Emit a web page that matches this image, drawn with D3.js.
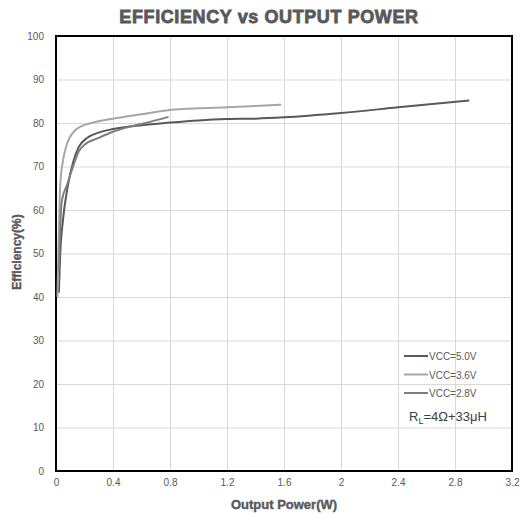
<!DOCTYPE html>
<html>
<head>
<meta charset="utf-8">
<script src="https://cdn.jsdelivr.net/npm/d3@7"></script>
<style>
  body { margin: 0; background: #fff; }
  text { font-family: "Liberation Sans", Arial, sans-serif; }
</style>
</head>
<body>
<svg id="chart"></svg>
<script>
// Data
const xTicks = [0, 0.4, 0.8, 1.2, 1.6, 2, 2.4, 2.8, 3.2];
const yTicks = [0, 10, 20, 30, 40, 50, 60, 70, 80, 90, 100];

const vcc50 = [[0.02, 41], [0.03, 50], [0.05, 58], [0.08, 65], [0.12, 71], [0.16, 74.5], [0.22, 76.6],
  [0.3, 77.8], [0.4, 78.6], [0.6, 79.5], [0.8, 80.1], [1.0, 80.6], [1.2, 80.9], [1.4, 81],
  [1.6, 81.3], [2.0, 82.3], [2.4, 83.6], [2.9, 85.2]];
const vcc36 = [[0.01, 40], [0.02, 55], [0.03, 66], [0.05, 71.5], [0.08, 75.5], [0.12, 77.8], [0.18, 79.3],
  [0.25, 80], [0.4, 81], [0.6, 82], [0.8, 83], [1.0, 83.4], [1.2, 83.6], [1.4, 83.9], [1.58, 84.2]];
const vcc28 = [[0.02, 46], [0.04, 62], [0.08, 66], [0.12, 70], [0.16, 73.5], [0.2, 75], [0.3, 76.6],
  [0.4, 78], [0.5, 79], [0.63, 80], [0.79, 81.4]];

const seriesNames = ["VCC=5.0V", "VCC=3.6V", "VCC=2.8V"];
const seriesData = [vcc50, vcc36, vcc28];
const seriesColors = ["#595959", "#a6a6a6", "#7f7f7f"];

const width = 520, height = 514;
const margin = { left: 56, right: 8, top: 36, bottom: 43 };

const svg = d3.select("#chart").attr("width", width).attr("height", height);

const x = d3.scaleLinear().domain([0, 3.2]).range([margin.left, width - margin.right]);
const y = d3.scaleLinear().domain([0, 100]).range([height - margin.bottom, margin.top]);

// title (heavy, like Arial Black)
svg.append("text")
  .attr("x", 269).attr("y", 23)
  .attr("text-anchor", "middle")
  .attr("font-size", 18).attr("font-weight", "bold").attr("fill", "#595959")
  .attr("stroke", "#595959").attr("stroke-width", 0.8)
  .attr("letter-spacing", 0.6)
  .text("EFFICIENCY vs OUTPUT POWER");

// gridlines
svg.append("g")
  .attr("transform", `translate(0,${height - margin.bottom})`)
  .call(d3.axisBottom(x).tickValues(xTicks).tickSize(-(height - margin.top - margin.bottom)).tickFormat(""))
  .call(g => g.select(".domain").remove())
  .call(g => g.selectAll("line").attr("stroke", "#d9d9d9"));

svg.append("g")
  .attr("transform", `translate(${margin.left},0)`)
  .call(d3.axisLeft(y).tickValues(yTicks).tickSize(-(width - margin.left - margin.right)).tickFormat(""))
  .call(g => g.select(".domain").remove())
  .call(g => g.selectAll("line").attr("stroke", "#d9d9d9"));

// tick labels
const xAxis = svg.append("g")
  .attr("transform", `translate(0,${height - margin.bottom})`)
  .call(d3.axisBottom(x).tickValues(xTicks).tickSize(0).tickPadding(8).tickFormat(d3.format("")));
xAxis.select(".domain").remove();
xAxis.selectAll("text").attr("font-size", 10).attr("fill", "#595959").style("font-family", "Liberation Sans, Arial, sans-serif");

const yAxis = svg.append("g")
  .attr("transform", `translate(${margin.left},0)`)
  .call(d3.axisLeft(y).tickValues(yTicks).tickSize(0).tickPadding(12));
yAxis.select(".domain").remove();
yAxis.selectAll("text").attr("font-size", 10).attr("fill", "#595959").style("font-family", "Liberation Sans, Arial, sans-serif");

// frame
svg.append("rect")
  .attr("x", margin.left).attr("y", margin.top)
  .attr("width", width - margin.left - margin.right)
  .attr("height", height - margin.top - margin.bottom)
  .attr("fill", "none").attr("stroke", "#000").attr("stroke-width", 2);

// curves
const line = d3.line()
  .x(d => x(d[0]))
  .y(d => y(d[1]))
  .curve(d3.curveMonotoneX);

svg.selectAll(".series")
  .data(seriesData)
  .enter()
  .append("path")
  .attr("class", "series")
  .attr("d", line)
  .attr("fill", "none")
  .attr("stroke", (d, i) => seriesColors[i])
  .attr("stroke-width", 2);

// legend
const legend = svg.append("g").attr("transform", "translate(404,356)");
seriesNames.forEach((name, i) => {
  const row = legend.append("g").attr("transform", `translate(0,${i * 18.5})`);
  row.append("line").attr("x1", 0).attr("x2", 24).attr("y1", 0).attr("y2", 0)
    .attr("stroke", seriesColors[i]).attr("stroke-width", 2);
  row.append("text").attr("x", 25).attr("y", 4)
    .attr("font-size", 10).attr("fill", "#595959").text(name);
});

const rl = svg.append("text")
  .attr("x", 409).attr("y", 421)
  .attr("font-size", 13).attr("fill", "#404040");
rl.append("tspan").text("R");
rl.append("tspan").attr("font-size", 9).attr("dy", 3).text("L");
rl.append("tspan").attr("dy", -3).text("=4Ω+33μH");

// axis titles
svg.append("text")
  .attr("x", 284).attr("y", 509)
  .attr("text-anchor", "middle")
  .attr("font-size", 13).attr("font-weight", "bold").attr("fill", "#595959")
  .attr("stroke", "#595959").attr("stroke-width", 0.4)
  .text("Output Power(W)");

svg.append("text")
  .attr("transform", "translate(21,252) rotate(-90)")
  .attr("text-anchor", "middle")
  .attr("font-size", 12).attr("font-weight", "bold").attr("fill", "#595959")
  .attr("stroke", "#595959").attr("stroke-width", 0.4)
  .text("Efficiency(%)");
</script>
</body>
</html>
